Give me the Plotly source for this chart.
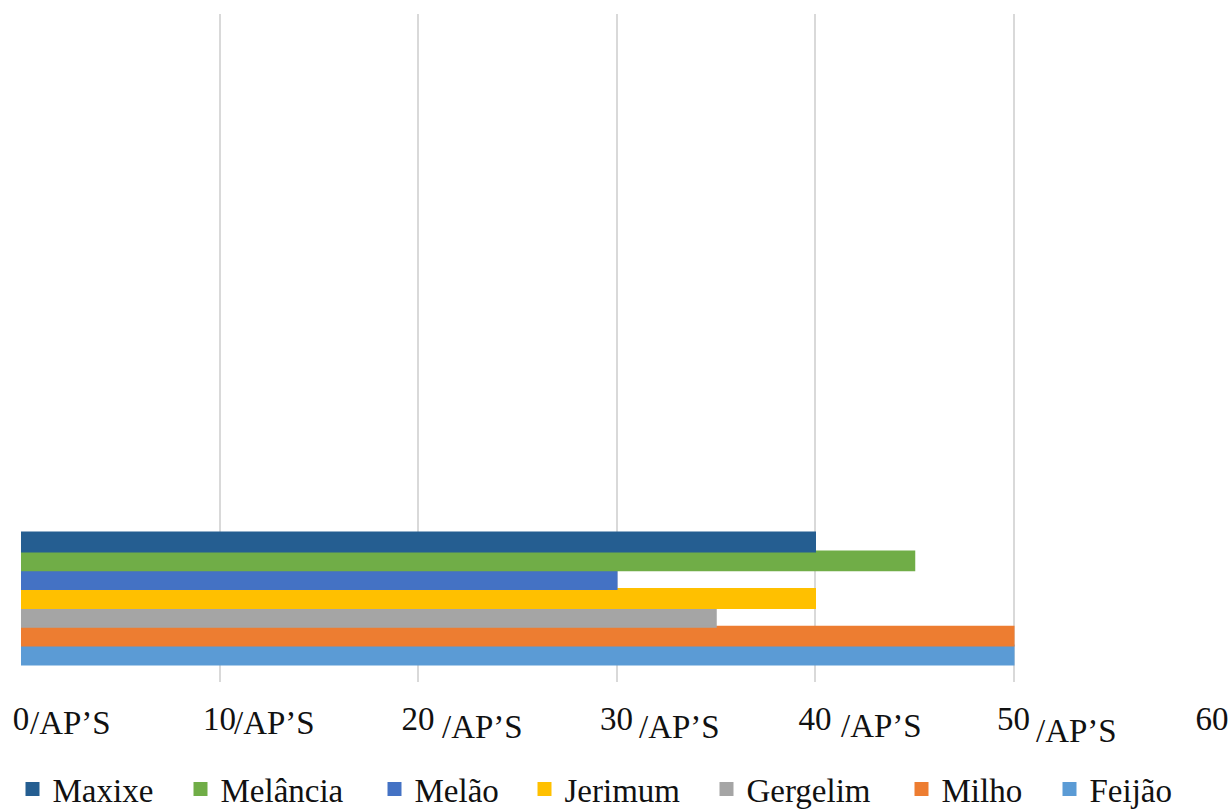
import plotly.graph_objects as go

# ---- data ----
crops = ["Feijão", "Milho", "Gergelim", "Jerimum", "Melão", "Melância", "Maxixe"]
values = [50, 50, 35, 40, 30, 45, 40]
colors = ["#5B9BD5", "#ED7D31", "#A5A5A5", "#FFC000", "#4472C4", "#70AD47", "#255E91"]
tick_values = [0, 10, 20, 30, 40, 50, 60]
tick_labels = ["0", "10", "20", "30", "40", "50", "60"]
suffix_ticks = [0, 10, 20, 30, 40, 50]
suffix_text = "/AP’S"

# ---- layout constants ----
W, H = 1231, 809
ML, MR, MT, MB = 21, 19, 14, 127
PW = W - ML - MR
PH = H - MT - MB
FONT = "Liberation Serif"
TXT = "#111111"

# legend square centers (px) for each crop, in crop order
legend_centers = [1069.5, 921.5, 726.5, 544.5, 394.5, 200.5, 32.5]
LEG_Y = 789
# suffix offsets (px) from each gridline and vertical shifts
suffix_dx = [7, 12, 22, 20, 24, 20]
suffix_dy = [-41, -41, -45, -45, -44, -49]

fig = go.Figure()
for i, (c, v, col) in enumerate(zip(crops, values, colors)):
    lg = "legend" if i == 0 else f"legend{i+1}"
    fig.add_trace(go.Bar(
        y=[0], x=[v], name=c, orientation="h",
        marker=dict(color=col, line=dict(color=col, width=2)),
        legend=lg, hoverinfo="x+name",
    ))

layout_legends = {}
for i, cx in enumerate(legend_centers):
    lg = "legend" if i == 0 else f"legend{i+1}"
    layout_legends[lg] = dict(
        xref="container", yref="container",
        x=(cx - 20) / W, xanchor="left",
        y=1 - LEG_Y / H, yanchor="middle",
        orientation="h",
        font=dict(family=FONT, size=33, color=TXT, weight="normal", style="normal"),
        bgcolor="rgba(0,0,0,0)", borderwidth=0,
        itemclick=False, itemdoubleclick=False,
    )

annotations = []
for t, dx, dy in zip(suffix_ticks, suffix_dx, suffix_dy):
    annotations.append(dict(
        x=t, xref="x", y=0, yref="paper",
        text=suffix_text, showarrow=False,
        xanchor="left", yanchor="middle",
        xshift=dx, yshift=dy,
        font=dict(family=FONT, size=33, color=TXT),
    ))

fig.update_layout(
    template="none",
    width=W, height=H,
    margin=dict(l=ML, r=MR, t=MT, b=MB, pad=0, autoexpand=False),
    paper_bgcolor="white", plot_bgcolor="white",
    barmode="group", bargap=0.21, bargroupgap=0,
    showlegend=True,
    annotations=annotations,
    font=dict(family=FONT, size=33, color=TXT),
    **layout_legends,
)
fig.update_xaxes(
    range=[0, 60], tickvals=tick_values, ticktext=tick_labels,
    showgrid=True, gridcolor="#D9D9D9", gridwidth=1.5,
    zeroline=False, showline=False, automargin=False,
    ticks="outside", ticklen=7, tickcolor="rgba(0,0,0,0)",
    tickfont=dict(family=FONT, size=33, color=TXT),
    fixedrange=True,
)
fig.update_yaxes(
    range=[-0.5, 3.5], showticklabels=False, showgrid=False,
    zeroline=False, showline=False, fixedrange=True, automargin=False,
)

fig.write_html("out.html")
